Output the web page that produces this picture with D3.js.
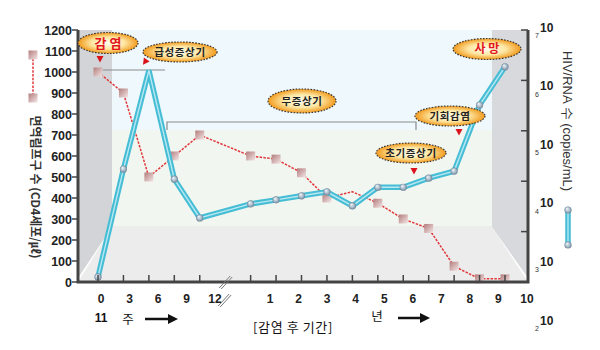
<!DOCTYPE html>
<html><head><meta charset="utf-8">
<script src="https://cdn.jsdelivr.net/npm/d3@7"></script>
<style>body{margin:0;background:#fff}svg{display:block}</style>
</head><body><svg id="c" width="600" height="350"></svg>
<script>
// ---- data ----
const tickIndex = d3.range(0, 17);          // x positions (weeks 0..12, break, years 1..10)
const breakIndex = 5;
const xLabels = ["0","3","6","9","12","1","2","3","4","5","6","7","8","9","10"];
const xLabelSlots = [0,1,2,3,4,5,6,7,8,9,10,11,12,13,14];
const cd4Ticks = [0,100,200,300,400,500,600,700,800,900,1000,1100,1200];
const cd4Index  = [0,1,2,3,4,6,7,8,9,10,11,12,13,14,15,16];
const cd4Values = [1000,900,500,600,700,600,585,520,400,430,375,300,255,75,15,15];
const cd4NoMarker = [9];
const hivIndex = [0,1,2,3,4,6,7,8,9,10,11,12,13,14,15,16];
const hivLog   = [2.1,4.24,6.2,4.04,3.27,3.55,3.63,3.71,3.79,3.51,3.88,3.88,4.06,4.2,5.51,6.27];
const hivNoMarker = [2];
const hivTickExp = [2,3,4,5,6,7];

// ---- layout ----
const L = 78, R = 528, T = 30, B = 282;
const backL = 112, backR = 492, backB = 227, bandY = 130;
const svg = d3.select("#c");
const x = d3.scaleLinear().domain([0,16]).range([98,505]);
const xLab = d3.scaleLinear().domain([0,4,5,14]).range([101,215,270,527]);
const yL = d3.scaleLinear().domain([0,1200]).range([B,T]);
const yR = d3.scaleLinear().domain([2,7]).range([B,T]);
const yRLab = d3.scaleLinear().domain([2,7]).range([320,27]);
const KR = "'Noto Sans CJK KR','Noto Sans',sans-serif";
const AR = "'Liberation Sans',Arial,sans-serif";

// ---- defs ----
const defs = svg.append("defs");
const rg = defs.append("radialGradient").attr("id","callout");
rg.append("stop").attr("offset","0%").attr("stop-color","#fffdf0");
rg.append("stop").attr("offset","55%").attr("stop-color","#fde7a4");
rg.append("stop").attr("offset","100%").attr("stop-color","#f29a1c");
const sg = defs.append("radialGradient").attr("id","sphere").attr("fx","35%").attr("fy","30%");
sg.append("stop").attr("offset","0%").attr("stop-color","#f6f9fc");
sg.append("stop").attr("offset","60%").attr("stop-color","#a9bccb");
sg.append("stop").attr("offset","100%").attr("stop-color","#6f8497");
const qg = defs.append("linearGradient").attr("id","sq").attr("x1",0).attr("y1",0).attr("x2",1).attr("y2",1);
qg.append("stop").attr("offset","0%").attr("stop-color","#b27c7c");
qg.append("stop").attr("offset","100%").attr("stop-color","#f4e6e6");

// ---- 3D box background ----
svg.append("rect").attr("x",backL).attr("y",T).attr("width",backR-backL).attr("height",bandY-T).attr("fill","#eff8fc");
svg.append("rect").attr("x",backL).attr("y",bandY).attr("width",backR-backL).attr("height",backB-bandY).attr("fill","#f2f6f0");
svg.append("line").attr("x1",backL).attr("x2",backR).attr("y1",backB).attr("y2",backB).attr("stroke","#e2e6e2");
svg.append("polygon").attr("points",`${backL},${backB} ${backR},${backB} ${R},${B} ${L},${B}`).attr("fill","#ececed");
svg.append("polygon").attr("points",`${L},${T} ${backL},${T} ${backL},${backB} ${L},${B-4}`).attr("fill","#d3d4d7");
svg.append("polygon").attr("points",`${backR},${T} ${R},${T} ${R},${B-4} ${backR},${backB}`).attr("fill","#d8d9dc");

// ---- bracket lines ----
const gl = svg.append("g").attr("stroke","#8a8a8a").attr("stroke-width",1.2).attr("fill","none");
gl.append("line").attr("x1",103).attr("x2",165).attr("y1",70).attr("y2",70);
gl.append("polyline").attr("points","167,130 167,122 416,122 416,130");

// ---- CD4 series (red) ----
const cd4 = cd4Index.map((d,i)=>({i:d, v:cd4Values[i], k:i}));
svg.append("path").datum(cd4)
  .attr("d", d3.line().x(d=>x(d.i)).y(d=>yL(d.v)))
  .attr("fill","none").attr("stroke","#e2383b").attr("stroke-width",1.5).attr("stroke-dasharray","2.5,1.3");
svg.selectAll(".sq").data(cd4.filter(d=>!cd4NoMarker.includes(d.k))).join("rect")
  .attr("x",d=>x(d.i)-4.5).attr("y",d=>yL(d.v)-4.5).attr("width",9).attr("height",9)
  .attr("fill","url(#sq)");

// ---- HIV series (blue) ----
const hiv = hivIndex.map((d,i)=>({i:d, v:hivLog[i], k:i}));
const hl = d3.line().x(d=>x(d.i)).y(d=>yR(d.v));
svg.append("path").datum(hiv).attr("d",hl).attr("fill","none").attr("stroke","#45bdd5").attr("stroke-width",5.5).attr("stroke-linejoin","miter");
svg.append("path").datum(hiv).attr("d",hl).attr("fill","none").attr("stroke","#b9e8f2").attr("stroke-width",1.4).attr("stroke-linejoin","miter");
svg.selectAll(".sp").data(hiv.filter(d=>!hivNoMarker.includes(d.k))).join("circle")
  .attr("cx",d=>x(d.i)).attr("cy",d=>yR(d.v)).attr("r",3.6).attr("fill","url(#sphere)");

// ---- axes ----
const ax = svg.append("g").attr("stroke","#444").attr("fill","none");
ax.append("path").attr("d",`M${L},${T}V${B}H${R}V${T}`).attr("stroke-width",3);
ax.selectAll(".lt").data(cd4Ticks).join("line").attr("x1",L-6).attr("x2",L).attr("y1",d=>yL(d)).attr("y2",d=>yL(d)).attr("stroke-width",1.5);
ax.selectAll(".rt").data(hivTickExp).join("line").attr("x1",R-7).attr("x2",R).attr("y1",d=>yR(d)).attr("y2",d=>yR(d)).attr("stroke-width",1.5);
ax.selectAll(".bt").data(tickIndex.filter(d=>d!==breakIndex)).join("line").attr("x1",d=>x(d)).attr("x2",d=>x(d)).attr("y1",B-7).attr("y2",B).attr("stroke-width",1.5);

svg.selectAll(".ll").data(cd4Ticks).join("text")
  .attr("x",72).attr("y",d=>yL(d)+4.5).attr("text-anchor","end")
  .attr("font-family",AR).attr("font-weight","bold").attr("font-size",12.5).attr("fill","#222").text(d=>d);
svg.selectAll(".xl").data(xLabels).join("text")
  .attr("x",(d,i)=>xLab(xLabelSlots[i])).attr("y",303).attr("text-anchor","middle")
  .attr("font-family",AR).attr("font-weight","bold").attr("font-size",12).attr("fill","#222").text(d=>d);
const rl = svg.selectAll(".rl").data(hivTickExp).join("g").attr("transform",d=>`translate(540,${yRLab(d)})`);
rl.append("text").attr("x",0).attr("y",4.5).attr("font-family",AR).attr("font-weight","bold").attr("font-size",12).attr("fill","#222").text("10");
rl.append("text").attr("x",-5).attr("y",11).attr("font-family",AR).attr("font-size",7).attr("fill","#333").text(d=>d);

// break marks
function slash(cx, cy){
  const g = svg.append("g").attr("stroke","#777").attr("stroke-width",1);
  g.append("line").attr("x1",cx-6).attr("y1",cy+6).attr("x2",cx+5).attr("y2",cy-6);
  g.append("line").attr("x1",cx-4).attr("y1",cy+7).attr("x2",cx+7).attr("y2",cy-5);
}
slash(x(breakIndex), B);
slash(x(breakIndex)-1, 300);

// ---- axis titles ----
svg.append("text").attr("transform","translate(31,187) rotate(90)").attr("text-anchor","middle")
  .attr("font-family",KR).attr("font-size",12).attr("font-weight","bold").attr("fill","#333").text("면역림프구 수 (CD4세포/㎕)");
svg.append("text").attr("transform","translate(563,121) rotate(90)").attr("text-anchor","middle")
  .attr("font-family",AR).attr("font-size",13).attr("fill","#333").text("HIV/RNA 수 (copies/mL)");

// legends
svg.append("line").attr("x1",33).attr("x2",33).attr("y1",55).attr("y2",98).attr("stroke","#e2383b").attr("stroke-width",1.5).attr("stroke-dasharray","2.5,1.3");
[55,98].forEach(v=>svg.append("rect").attr("x",28.5).attr("y",v-4.5).attr("width",9).attr("height",9).attr("fill","url(#sq)"));
svg.append("line").attr("x1",568).attr("x2",568).attr("y1",210).attr("y2",245).attr("stroke","#45bdd5").attr("stroke-width",5.5);
svg.append("line").attr("x1",568).attr("x2",568).attr("y1",210).attr("y2",245).attr("stroke","#b9e8f2").attr("stroke-width",1.4);
[210,245].forEach(v=>svg.append("circle").attr("cx",568).attr("cy",v).attr("r",3.6).attr("fill","url(#sphere)"));

// bottom text
const bt = svg.append("g").attr("fill","#111");
bt.append("text").attr("x",101).attr("y",322).attr("text-anchor","middle").attr("font-family",AR).attr("font-weight","bold").attr("font-size",12).text("11");
bt.append("text").attr("x",128).attr("y",324).attr("text-anchor","middle").attr("font-family",KR).attr("font-size",12.5).text("주");
bt.append("text").attr("x",293).attr("y",332).attr("text-anchor","middle").attr("font-family",KR).attr("font-size",13).attr("letter-spacing",0.6).text("[감염 후 기간]");
bt.append("text").attr("x",377).attr("y",321).attr("text-anchor","middle").attr("font-family",KR).attr("font-size",12.5).text("년");
function arrow(x1,x2,y){
  svg.append("line").attr("x1",x1).attr("x2",x2-8).attr("y1",y).attr("y2",y).attr("stroke","#111").attr("stroke-width",2.5);
  svg.append("path").attr("d",`M${x2},${y}L${x2-10},${y-5}L${x2-10},${y+5}Z`).attr("fill","#111");
}
arrow(145,178,319);
arrow(398,430,318);

// ---- callouts ----
const callouts = [
  {t:"감 염", cx:108, cy:43, rx:30, ry:10.5, red:true, fs:13},
  {t:"급성증상기", cx:180, cy:52, rx:37, ry:10, red:false, fs:10.5},
  {t:"무증상기", cx:302, cy:101, rx:34, ry:12, red:false, fs:10.5},
  {t:"초기증상기", cx:411, cy:153, rx:35, ry:10, red:false, fs:10.5},
  {t:"기회감염", cx:450, cy:116, rx:35, ry:10, red:false, fs:10.5},
  {t:"사 망", cx:487, cy:49, rx:34, ry:10.5, red:true, fs:12}
];
const cg = svg.selectAll(".co").data(callouts).join("g");
cg.append("ellipse").attr("cx",d=>d.cx).attr("cy",d=>d.cy).attr("rx",d=>d.rx).attr("ry",d=>d.ry)
  .attr("fill","url(#callout)").attr("stroke","#3a3a3a").attr("stroke-width",1.2).attr("stroke-dasharray","1.6,1.4");
cg.append("text").attr("x",d=>d.cx).attr("y",d=>d.cy+d.fs*0.37).attr("text-anchor","middle")
  .attr("font-family",KR).attr("font-weight","bold").attr("font-size",d=>d.fs).attr("letter-spacing",d=>d.red?0:0.6)
  .attr("fill",d=>d.red?"#e3161d":"#222").text(d=>d.t);
// pointers
const pointers = [{x:100,y:59,r:0},{x:145,y:62,r:35},{x:414,y:171,r:0},{x:459,y:132,r:0}];
svg.selectAll(".pt").data(pointers).join("path")
  .attr("transform",d=>`translate(${d.x},${d.y}) rotate(${d.r})`)
  .attr("d","M-3.5,-3L3.5,-3L0,3.5Z").attr("fill","#d9121b");
</script>
</body></html>
